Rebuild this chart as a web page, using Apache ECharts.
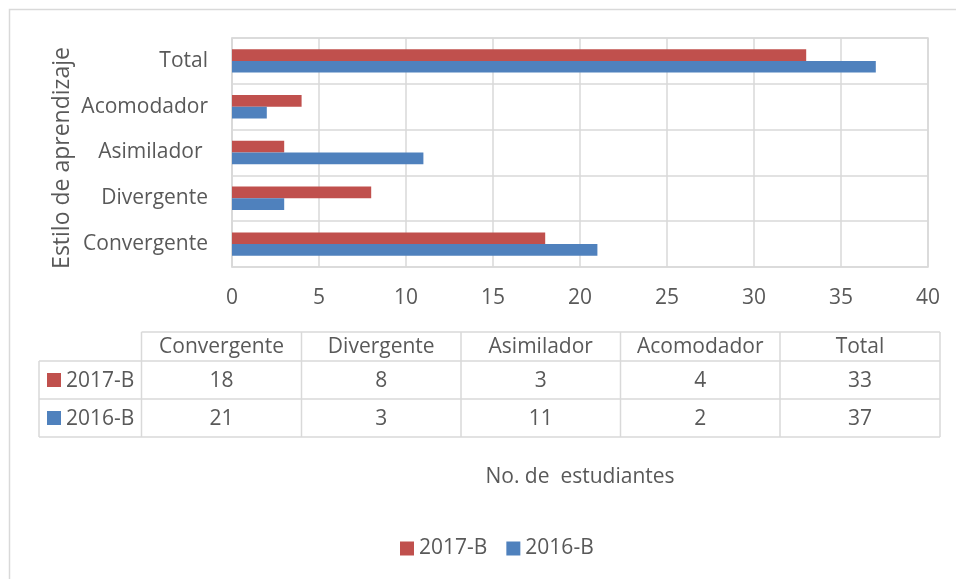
<!DOCTYPE html>
<html>
<head>
<meta charset="utf-8">
<script src="https://cdn.jsdelivr.net/npm/echarts@6/dist/echarts.min.js"></script>
<style>
  html, body { margin: 0; padding: 0; background: #ffffff; }
  #chart { width: 956px; height: 579px; }
</style>
</head>
<body>
<div id="chart"></div>
<script>
// ---- data ----
var categories = ['Convergente', 'Divergente', 'Asimilador ', 'Acomodador', 'Total'];
var tableHeaders = ['Convergente', 'Divergente', 'Asimilador', 'Acomodador', 'Total'];
var seriesNames = ['2017-B', '2016-B'];
var values2017 = [18, 8, 3, 4, 33];
var values2016 = [21, 3, 11, 2, 37];
var xTicks = [0, 5, 10, 15, 20, 25, 30, 35, 40];
var yTitle = 'Estilo de aprendizaje';
var xTitle = 'No. de  estudiantes';

// ---- style ----
var RED = '#C0504D';
var BLUE = '#4F81BD';
var TXT = '#595959';
var LINE = '#d9d9d9';
var FONT = 'Open Sans';
var FS = 21;

// ---- table graphic ----
var graphics = [];
// outer border
graphics.push({
  type: 'rect', shape: { x: 9.5, y: 9.5, width: 1000, height: 1000 },
  style: { fill: 'none', stroke: LINE, lineWidth: 1.5 }, silent: true
});
// y axis title
graphics.push({
  type: 'text', x: 62, y: 158, rotation: Math.PI / 2, silent: true,
  style: { text: yTitle, fill: TXT, fontFamily: FONT, fontSize: 23, align: 'center', verticalAlign: 'middle' }
});
var colX = [141.5, 301.5, 461, 620.5, 780, 940];
var firstColX = 39;
var rowY = [332, 361, 399, 437];
function hline(x1, x2, y) {
  graphics.push({ type: 'line', shape: { x1: x1, y1: y, x2: x2, y2: y }, style: { stroke: LINE, lineWidth: 1.5 }, silent: true });
}
function vline(x, y1, y2) {
  graphics.push({ type: 'line', shape: { x1: x, y1: y1, x2: x, y2: y2 }, style: { stroke: LINE, lineWidth: 1.5 }, silent: true });
}
hline(colX[0], colX[5], rowY[0]);
hline(firstColX, colX[5], rowY[1]);
hline(firstColX, colX[5], rowY[2]);
hline(firstColX, colX[5], rowY[3]);
vline(firstColX, rowY[1], rowY[3]);
for (var i = 0; i < colX.length; i++) vline(colX[i], rowY[0], rowY[3]);

function txt(s, x, y, align) {
  graphics.push({
    type: 'text', x: x, y: y, silent: true,
    style: { text: s, fill: TXT, fontFamily: FONT, fontSize: FS, align: align || 'center', verticalAlign: 'middle' }
  });
}
var rowValues = [values2017, values2016];
var rowColors = [RED, BLUE];
for (var c = 0; c < tableHeaders.length; c++) {
  var cx = (colX[c] + colX[c + 1]) / 2;
  txt(tableHeaders[c], cx, (rowY[0] + rowY[1]) / 2 + 1);
  for (var r = 0; r < 2; r++) {
    txt(String(rowValues[r][c]), cx, (rowY[r + 1] + rowY[r + 2]) / 2 + 1);
  }
}
for (var r2 = 0; r2 < 2; r2++) {
  var cy = (rowY[r2 + 1] + rowY[r2 + 2]) / 2;
  graphics.push({ type: 'rect', shape: { x: 47, y: cy - 7, width: 14, height: 14 }, style: { fill: rowColors[r2] }, silent: true });
  txt(seriesNames[r2], 66, cy + 1, 'left');
}

var chart = echarts.init(document.getElementById('chart'), null, { renderer: 'canvas' });
chart.setOption({
  animation: false,
  backgroundColor: '#ffffff',
  textStyle: { fontFamily: FONT, color: TXT },
  grid: { left: 232, right: 28, top: 38, height: 229, show: true, borderColor: LINE, borderWidth: 1.5 },
  legend: {
    data: seriesNames,
    left: 395, top: 533,
    icon: 'rect', itemWidth: 14, itemHeight: 14, itemGap: 19,
    textStyle: { color: TXT, fontSize: FS, fontFamily: FONT }
  },
  xAxis: {
    type: 'value', min: xTicks[0], max: xTicks[xTicks.length - 1], interval: xTicks[1] - xTicks[0],
    axisLine: { show: false }, axisTick: { show: false },
    axisLabel: { color: TXT, fontSize: FS, fontFamily: FONT, margin: 21 },
    splitLine: { show: true, lineStyle: { color: LINE, width: 1.5 } },
    name: xTitle, nameLocation: 'middle', nameGap: 200,
    nameTextStyle: { color: TXT, fontSize: FS, fontFamily: FONT }
  },
  yAxis: {
    type: 'category', data: categories,
    axisLine: { show: true, lineStyle: { color: LINE, width: 1.5 } }, axisTick: { show: false },
    axisLabel: { color: TXT, fontSize: FS, fontFamily: FONT, margin: 24 },
    splitLine: { show: true, lineStyle: { color: LINE, width: 1.5 } }
  },
  series: [
    { name: seriesNames[0], type: 'bar', data: values2017, itemStyle: { color: RED }, barGap: '0%', barCategoryGap: '49%' },
    { name: seriesNames[1], type: 'bar', data: values2016, itemStyle: { color: BLUE }, barGap: '0%', barCategoryGap: '49%' }
  ],
  graphic: graphics
});
</script>
</body>
</html>
